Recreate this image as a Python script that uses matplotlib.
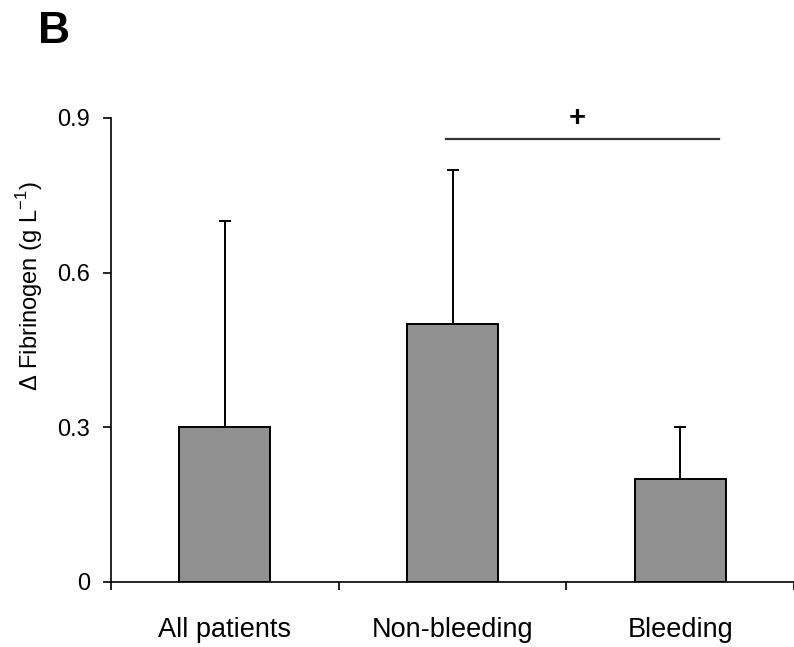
import numpy as np
import matplotlib.pyplot as plt

plt.rcParams['font.family'] = ['Liberation Sans', 'DejaVu Sans']

# Change in fibrinogen by patient group
groups = ['All patients', 'Non-bleeding', 'Bleeding']
means = [0.30, 0.50, 0.20]
sd_upper = [0.40, 0.30, 0.10]

# significance bracket between non-bleeding and bleeding
sig_level = 0.86
sig_start, sig_end = 0.97, 2.17
sig_mark = '+'

fig = plt.figure(figsize=(7.94, 6.47), dpi=100)
ax = fig.add_axes([0.1398, 0.1005, 0.8602, 0.7172])

x = np.arange(len(groups))
ax.bar(x, means, width=0.4, color='#909090', edgecolor='black', linewidth=1.4, zorder=2)
ax.errorbar(x, means, yerr=[np.zeros(len(means)), sd_upper], fmt='none',
            ecolor='black', elinewidth=1.4, capsize=4, capthick=1.4, zorder=1)

ax.plot([sig_start, sig_end], [sig_level, sig_level], color='#333333', lw=1.6, clip_on=False)
ax.text((sig_start + sig_end) / 2 - 0.02, sig_level + 0.012, sig_mark, ha='center', va='bottom',
        fontsize=21, fontweight='bold')

ax.set_xlim(-0.5, 2.5)
ax.set_ylim(0, 0.9)
ax.set_yticks([0, 0.3, 0.6, 0.9])
ax.set_yticklabels(['0', '0.3', '0.6', '0.9'])
ax.set_xticks([-0.5, 0.5, 1.5, 2.5])
ax.set_xticklabels([])
ax.set_xticks(x, minor=True)
ax.set_xticklabels(groups, minor=True, fontsize=19.5)
ax.tick_params(axis='x', which='minor', length=0, pad=25)
ax.tick_params(axis='x', which='major', length=6, width=1.2, direction='out')
ax.tick_params(axis='y', length=6, width=1.2, direction='out', pad=9, labelsize=17)

for side in ['top', 'right']:
    ax.spines[side].set_visible(False)
for side in ['left', 'bottom']:
    ax.spines[side].set_linewidth(1.2)

ax.set_ylabel('Δ Fibrinogen (g L$^{\\mathregular{-1}}$)', fontsize=17)
ax.yaxis.set_label_coords(-0.097, 0.638)

fig.text(0.048, 0.933, 'B', fontsize=32, fontweight='bold')

fig.savefig('out.png', dpi=100)
